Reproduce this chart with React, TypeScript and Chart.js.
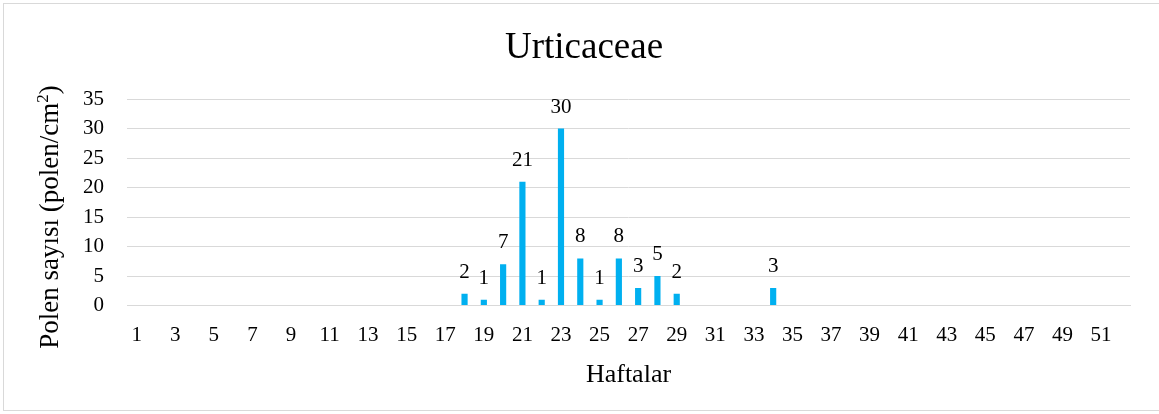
import React, { useEffect, useRef } from "react";
import { Chart, registerables } from "chart.js";

Chart.register(...registerables);

const weeks: string[] = Array.from({ length: 52 }, (_, i) => String(i + 1));
const counts: number[] = [
  0, 0, 0, 0, 0, 0, 0, 0, 0, 0,
  0, 0, 0, 0, 0, 0, 0, 2, 1, 7,
  21, 1, 30, 8, 1, 8, 3, 5, 2, 0,
  0, 0, 0, 3, 0, 0, 0, 0, 0, 0,
  0, 0, 0, 0, 0, 0, 0, 0, 0, 0,
  0, 0,
];
const yTicks: number[] = [0, 5, 10, 15, 20, 25, 30, 35];
const chartTitle = "Urticaceae";
const yTitleParts: string[] = ["Polen sayısı (polen/cm", "2", ")"];

const FONT = "'Liberation Serif', 'Times New Roman', serif";

const valueLabels = {
  id: "valueLabels",
  afterDatasetsDraw(chart: any) {
    const ctx = chart.ctx;
    const meta = chart.getDatasetMeta(0);
    ctx.save();
    ctx.font = `21px ${FONT}`;
    ctx.fillStyle = "#000";
    ctx.textAlign = "center";
    ctx.textBaseline = "alphabetic";
    meta.data.forEach((el: any, i: number) => {
      const v = counts[i];
      if (!v) return;
      ctx.fillText(String(v), el.x, el.y - 16);
    });
    ctx.restore();
  },
};

const titles = {
  id: "titles",
  afterDraw(chart: any) {
    const ctx = chart.ctx;
    ctx.save();
    ctx.fillStyle = "#000";
    // main title
    ctx.font = `37px ${FONT}`;
    ctx.textAlign = "center";
    ctx.textBaseline = "middle";
    ctx.fillText(chartTitle, 584, 48);
    // y-axis title with superscript
    const main = `27px ${FONT}`;
    const sup = `17px ${FONT}`;
    ctx.textBaseline = "alphabetic";
    ctx.textAlign = "left";
    ctx.font = main;
    const w0 = ctx.measureText(yTitleParts[0]).width;
    const w2 = ctx.measureText(yTitleParts[2]).width;
    ctx.font = sup;
    const w1 = ctx.measureText(yTitleParts[1]).width;
    const total = w0 + w1 + w2;
    ctx.translate(58, 217);
    ctx.rotate(-Math.PI / 2);
    let x = -total / 2;
    ctx.font = main;
    ctx.fillText(yTitleParts[0], x, 0);
    x += w0;
    ctx.font = sup;
    ctx.fillText(yTitleParts[1], x, -10);
    x += w1;
    ctx.font = main;
    ctx.fillText(yTitleParts[2], x, 0);
    ctx.restore();
  },
};

export default function App() {
  const ref = useRef<HTMLCanvasElement>(null);
  useEffect(() => {
    document.body.style.margin = "0";
    const chart = new Chart(ref.current!, {
      type: "bar",
      data: {
        labels: weeks,
        datasets: [
          {
            data: counts,
            backgroundColor: "#00B0F0",
            barPercentage: 0.32,
            categoryPercentage: 1,
          },
        ],
      },
      options: {
        animation: false,
        responsive: false,
        layout: { padding: { left: 60, right: 29, top: 99, bottom: 23 } },
        plugins: {
          legend: { display: false },
          tooltip: { enabled: false },
          title: { display: false },
        },
        scales: {
          x: {
            grid: { display: false, drawTicks: false },
            border: { display: true, color: "#d9d9d9" },
            ticks: {
              autoSkip: false,
              maxRotation: 0,
              color: "#000",
              padding: 17,
              font: { family: FONT, size: 21 },
              callback: (_v: any, i: number) => (i % 2 === 0 ? weeks[i] : ""),
            },
            title: {
              display: true,
              text: "Haftalar",
              color: "#000",
              font: { family: FONT, size: 26 },
              padding: { top: -5, bottom: 0 },
            },
          },
          y: {
            min: 0,
            max: 35,
            afterBuildTicks: (axis: any) => {
              axis.ticks = yTicks.map((v) => ({ value: v }));
            },
            grid: { color: "#d9d9d9", drawTicks: false },
            border: { display: false },
            ticks: {
              autoSkip: false,
              color: "#000",
              padding: 23,
              font: { family: FONT, size: 21 },
            },
          },
        },
      },
      plugins: [valueLabels, titles],
    });
    return () => chart.destroy();
  }, []);
  return (
    <div style={{ position: "relative", width: 1159, height: 414 }}>
      <canvas ref={ref} width={1159} height={414} style={{ display: "block" }} />
      <div
        style={{
          position: "absolute",
          left: 3,
          top: 3,
          width: 1160,
          height: 406,
          border: "1px solid #d9d9d9",
          pointerEvents: "none",
        }}
      />
    </div>
  );
}
